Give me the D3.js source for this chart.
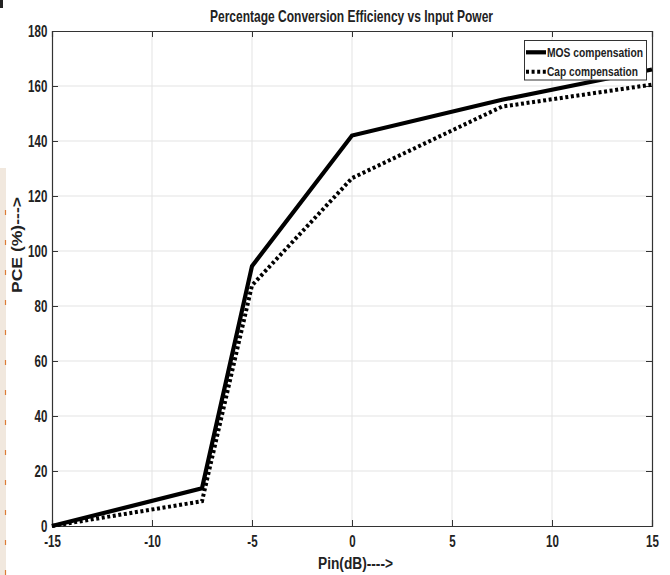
<!DOCTYPE html>
<html>
<head>
<meta charset="utf-8">
<script src="https://cdn.jsdelivr.net/npm/d3@7"></script>
<style>
  html, body { margin: 0; padding: 0; background: #fff; }
  svg { display: block; }
  text { font-family: "Liberation Sans", Arial, sans-serif; font-weight: bold; fill: #222; }
</style>
</head>
<body>
<svg id="chart" width="670" height="575"></svg>
<script>
// Input power (dB) sample points
const pinDb = [-15, -7.5, -5, 0, 7.5, 15];
// PCE (%) for each compensation scheme
const mosPce = [0, 13.7, 94.5, 142, 155, 166];
const capPce = [0, 9, 87.5, 126.5, 152.5, 160.5];
const seriesNames = ["MOS compensation", "Cap compensation"];
const xTicks = [-15, -10, -5, 0, 5, 10, 15];
const yTicks = [0, 20, 40, 60, 80, 100, 120, 140, 160, 180];

const svg = d3.select("#chart");
const plotL = 52, plotR = 652, plotT = 31, plotB = 526;
const condense = 0.72;   // horizontal squeeze for a condensed look

const x = d3.scaleLinear().domain([-15, 15]).range([plotL, plotR]);
const y = d3.scaleLinear().domain([0, 180]).range([plotB, plotT]);

// page-edge strip on the left
svg.append("rect").attr("x", 0).attr("y", 168).attr("width", 6).attr("height", 407)
  .attr("fill", "#f1e8de");
d3.range(210, 575, 30).forEach(yy => {
  svg.append("line").attr("x1", 5.5).attr("x2", 5.5).attr("y1", yy).attr("y2", yy + 5)
    .attr("stroke", "#dc7c36").attr("stroke-width", 1.2);
});
svg.append("rect").attr("x", 0).attr("y", 0).attr("width", 3).attr("height", 8).attr("fill", "#222");

// grid
const grid = svg.append("g").attr("stroke", "#e3e3e3").attr("stroke-width", 1);
xTicks.slice(1, -1).forEach(t => {
  grid.append("line").attr("x1", x(t)).attr("x2", x(t)).attr("y1", plotT).attr("y2", plotB);
});
yTicks.slice(1, -1).forEach(t => {
  grid.append("line").attr("x1", plotL).attr("x2", plotR).attr("y1", y(t)).attr("y2", y(t));
});

// axes with inward ticks on all four sides
const axisColor = "#333";
const plain = d => String(d);
const gB = svg.append("g").attr("transform", `translate(0,${plotB})`)
  .call(d3.axisBottom(x).tickValues(xTicks).tickSize(-6).tickPadding(10).tickFormat(plain));
const gT = svg.append("g").attr("transform", `translate(0,${plotT})`)
  .call(d3.axisTop(x).tickValues(xTicks).tickSize(-6).tickFormat(""));
const gL = svg.append("g").attr("transform", `translate(${plotL},0)`)
  .call(d3.axisLeft(y).tickValues(yTicks).tickSize(-6).tickPadding(6.5).tickFormat(plain));
const gR = svg.append("g").attr("transform", `translate(${plotR},0)`)
  .call(d3.axisRight(y).tickValues(yTicks).tickSize(-6).tickFormat(""));
[gB, gT, gL, gR].forEach(g => {
  g.attr("font-family", null).attr("font-size", null);
  g.select(".domain").attr("stroke", axisColor).attr("stroke-width", 1.2);
  g.selectAll(".tick line").attr("stroke", axisColor).attr("stroke-width", 1);
  g.selectAll("text").attr("font-size", 16).attr("fill", "#222")
    .attr("transform", `scale(${condense},1)`);
});

// series lines
const line = d3.line().x((d, i) => x(pinDb[i])).y(d => y(d));
svg.append("path").datum(capPce).attr("d", line)
  .attr("fill", "none").attr("stroke", "#000").attr("stroke-width", 4)
  .attr("stroke-dasharray", "3,2.6");
svg.append("path").datum(mosPce).attr("d", line)
  .attr("fill", "none").attr("stroke", "#000").attr("stroke-width", 4.2)
  .attr("stroke-linejoin", "miter");

// title and axis labels
svg.append("text").attr("x", 210).attr("y", 22)
  .attr("font-size", 16.5).attr("textLength", 283).attr("lengthAdjust", "spacingAndGlyphs")
  .text("Percentage Conversion Efficiency vs Input Power");
svg.append("text").attr("x", 318).attr("y", 569)
  .attr("font-size", 16).attr("textLength", 75).attr("lengthAdjust", "spacingAndGlyphs")
  .text("Pin(dB)---->");
svg.append("text").attr("transform", "translate(22,245) rotate(-90)").attr("text-anchor", "middle")
  .attr("font-size", 14).attr("textLength", 96).attr("lengthAdjust", "spacingAndGlyphs")
  .text("PCE (%)--->");

// legend
const lg = svg.append("g");
lg.append("rect").attr("x", 524.5).attr("y", 40.5).attr("width", 122).attr("height", 39.5)
  .attr("fill", "#fff").attr("stroke", "#333").attr("stroke-width", 1);
const legendY = [52.3, 71.7];
const legendW = [96, 91];
lg.append("line").attr("x1", 526).attr("x2", 546).attr("y1", legendY[0]).attr("y2", legendY[0])
  .attr("stroke", "#000").attr("stroke-width", 4.2);
lg.append("line").attr("x1", 526).attr("x2", 546).attr("y1", legendY[1]).attr("y2", legendY[1])
  .attr("stroke", "#000").attr("stroke-width", 4).attr("stroke-dasharray", "3,2.6");
seriesNames.forEach((n, i) => {
  lg.append("text").attr("x", 547).attr("y", legendY[i] + 4.6).attr("font-size", 12.5)
    .attr("textLength", legendW[i]).attr("lengthAdjust", "spacingAndGlyphs").text(n);
});
</script>
</body>
</html>
